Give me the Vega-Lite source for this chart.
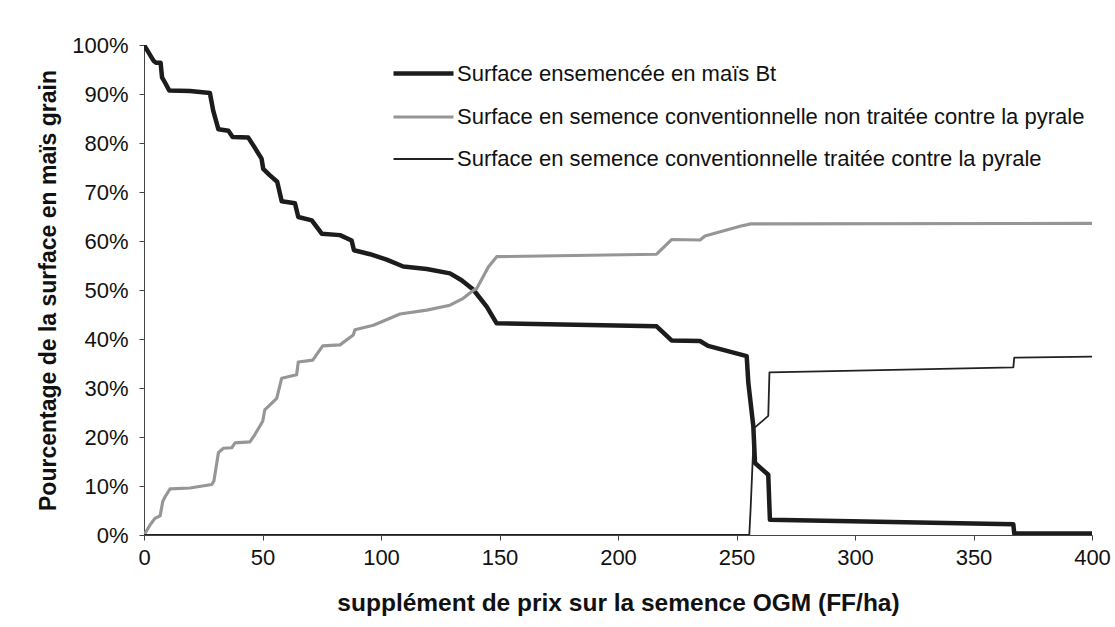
{
  "$schema": "https://vega.github.io/schema/vega-lite/v6.json",
  "autosize": "none",
  "width": 948,
  "height": 490,
  "padding": {"left": 144, "top": 45, "right": 23, "bottom": 92},
  "background": "white",
  "config": {
    "font": "Liberation Sans",
    "view": {"stroke": null},
    "axis": {"grid": false, "domainColor": "#444", "tickColor": "#444", "labelColor": "#111", "titleColor": "#111", "labelFont": "Liberation Sans", "titleFont": "Liberation Sans"}
  },
  "data": {
    "values": [
      {"serie": "Bt", "prix": 0, "pct": 100},
      {"serie": "Bt", "prix": 4, "pct": 96.8},
      {"serie": "Bt", "prix": 5, "pct": 96.4},
      {"serie": "Bt", "prix": 7, "pct": 96.4},
      {"serie": "Bt", "prix": 7.6, "pct": 93.4},
      {"serie": "Bt", "prix": 8.2, "pct": 92.9},
      {"serie": "Bt", "prix": 10.7, "pct": 90.7},
      {"serie": "Bt", "prix": 19.4, "pct": 90.6},
      {"serie": "Bt", "prix": 27.8, "pct": 90.2},
      {"serie": "Bt", "prix": 29.2, "pct": 86.6},
      {"serie": "Bt", "prix": 31.4, "pct": 82.8},
      {"serie": "Bt", "prix": 35.6, "pct": 82.5},
      {"serie": "Bt", "prix": 37.4, "pct": 81.2},
      {"serie": "Bt", "prix": 44, "pct": 81.1},
      {"serie": "Bt", "prix": 46.8, "pct": 79.0},
      {"serie": "Bt", "prix": 49.6, "pct": 76.8},
      {"serie": "Bt", "prix": 50.3, "pct": 74.7},
      {"serie": "Bt", "prix": 52.9, "pct": 73.5},
      {"serie": "Bt", "prix": 56.2, "pct": 72.1},
      {"serie": "Bt", "prix": 58.1, "pct": 68.1},
      {"serie": "Bt", "prix": 63.7, "pct": 67.7},
      {"serie": "Bt", "prix": 65.1, "pct": 64.9},
      {"serie": "Bt", "prix": 70.8, "pct": 64.2},
      {"serie": "Bt", "prix": 75, "pct": 61.5},
      {"serie": "Bt", "prix": 82.7, "pct": 61.2},
      {"serie": "Bt", "prix": 87.6, "pct": 60.1},
      {"serie": "Bt", "prix": 88.6, "pct": 58.1},
      {"serie": "Bt", "prix": 95.4, "pct": 57.3},
      {"serie": "Bt", "prix": 102.4, "pct": 56.2},
      {"serie": "Bt", "prix": 109.4, "pct": 54.8},
      {"serie": "Bt", "prix": 119.3, "pct": 54.3},
      {"serie": "Bt", "prix": 129.1, "pct": 53.4},
      {"serie": "Bt", "prix": 134, "pct": 52.0},
      {"serie": "Bt", "prix": 138.9, "pct": 50.1},
      {"serie": "Bt", "prix": 144.6, "pct": 46.6},
      {"serie": "Bt", "prix": 148.8, "pct": 43.2},
      {"serie": "Bt", "prix": 216.3, "pct": 42.6},
      {"serie": "Bt", "prix": 222.6, "pct": 39.7},
      {"serie": "Bt", "prix": 234.6, "pct": 39.6},
      {"serie": "Bt", "prix": 238, "pct": 38.6},
      {"serie": "Bt", "prix": 254.3, "pct": 36.5},
      {"serie": "Bt", "prix": 255, "pct": 31.0},
      {"serie": "Bt", "prix": 257.1, "pct": 22.2},
      {"serie": "Bt", "prix": 257.8, "pct": 14.7},
      {"serie": "Bt", "prix": 263.4, "pct": 12.3},
      {"serie": "Bt", "prix": 264.1, "pct": 3.1},
      {"serie": "Bt", "prix": 366.8, "pct": 2.2},
      {"serie": "Bt", "prix": 367.2, "pct": 0.3},
      {"serie": "Bt", "prix": 400, "pct": 0.3},
      {"serie": "NT", "prix": 0, "pct": 0},
      {"serie": "NT", "prix": 2.5, "pct": 2.0},
      {"serie": "NT", "prix": 4.6, "pct": 3.4},
      {"serie": "NT", "prix": 6.8, "pct": 3.9},
      {"serie": "NT", "prix": 7.9, "pct": 6.8},
      {"serie": "NT", "prix": 8.9, "pct": 7.8},
      {"serie": "NT", "prix": 11, "pct": 9.4},
      {"serie": "NT", "prix": 19.4, "pct": 9.6},
      {"serie": "NT", "prix": 28.6, "pct": 10.3},
      {"serie": "NT", "prix": 29.5, "pct": 11.0},
      {"serie": "NT", "prix": 31.4, "pct": 16.8},
      {"serie": "NT", "prix": 33.5, "pct": 17.7},
      {"serie": "NT", "prix": 37, "pct": 17.8},
      {"serie": "NT", "prix": 38.4, "pct": 18.8},
      {"serie": "NT", "prix": 44.7, "pct": 19.0},
      {"serie": "NT", "prix": 46.8, "pct": 20.5},
      {"serie": "NT", "prix": 50.1, "pct": 23.2},
      {"serie": "NT", "prix": 51, "pct": 25.6},
      {"serie": "NT", "prix": 52.4, "pct": 26.2},
      {"serie": "NT", "prix": 56, "pct": 27.9},
      {"serie": "NT", "prix": 58.1, "pct": 32.0},
      {"serie": "NT", "prix": 64.4, "pct": 32.7},
      {"serie": "NT", "prix": 65.1, "pct": 35.3},
      {"serie": "NT", "prix": 71.2, "pct": 35.7},
      {"serie": "NT", "prix": 75.4, "pct": 38.6},
      {"serie": "NT", "prix": 82.7, "pct": 38.8},
      {"serie": "NT", "prix": 88.3, "pct": 40.8},
      {"serie": "NT", "prix": 89, "pct": 41.9},
      {"serie": "NT", "prix": 96.8, "pct": 42.8},
      {"serie": "NT", "prix": 108, "pct": 45.1},
      {"serie": "NT", "prix": 119.3, "pct": 45.9},
      {"serie": "NT", "prix": 129.1, "pct": 46.9},
      {"serie": "NT", "prix": 134.7, "pct": 48.3},
      {"serie": "NT", "prix": 138.9, "pct": 49.9},
      {"serie": "NT", "prix": 140.4, "pct": 50.3},
      {"serie": "NT", "prix": 145.3, "pct": 54.7},
      {"serie": "NT", "prix": 148.8, "pct": 56.8},
      {"serie": "NT", "prix": 216.3, "pct": 57.3},
      {"serie": "NT", "prix": 222.6, "pct": 60.3},
      {"serie": "NT", "prix": 234.6, "pct": 60.2},
      {"serie": "NT", "prix": 236.7, "pct": 61.0},
      {"serie": "NT", "prix": 251.5, "pct": 63.0},
      {"serie": "NT", "prix": 256, "pct": 63.5},
      {"serie": "NT", "prix": 400, "pct": 63.6},
      {"serie": "T", "prix": 0, "pct": 0},
      {"serie": "T", "prix": 255.4, "pct": 0},
      {"serie": "T", "prix": 256, "pct": 5.8},
      {"serie": "T", "prix": 257.4, "pct": 21.8},
      {"serie": "T", "prix": 263.4, "pct": 24.3},
      {"serie": "T", "prix": 263.9, "pct": 33.2},
      {"serie": "T", "prix": 285.2, "pct": 33.4},
      {"serie": "T", "prix": 366.8, "pct": 34.2},
      {"serie": "T", "prix": 367.2, "pct": 36.2},
      {"serie": "T", "prix": 400, "pct": 36.4}
    ]
  },
  "transform": [
    {"calculate": "datum.serie === 'Bt' ? 'Surface ensemencée en maïs Bt' : datum.serie === 'NT' ? 'Surface en semence conventionnelle non traitée contre la pyrale' : 'Surface en semence conventionnelle traitée contre la pyrale'", "as": "Série"}
  ],
  "mark": {"type": "line", "clip": true, "strokeJoin": "round"},
  "encoding": {
    "x": {
      "field": "prix", "type": "quantitative",
      "scale": {"domain": [0, 400], "nice": false, "zero": false},
      "axis": {"values": [0, 50, 100, 150, 200, 250, 300, 350, 400], "title": "supplément de prix sur la semence OGM (FF/ha)", "titleFontSize": 24.5, "titleFontWeight": "bold", "titlePadding": 23, "labelFontSize": 22, "labelPadding": 7, "tickSize": 5, "labelFlush": false}
    },
    "y": {
      "field": "pct", "type": "quantitative",
      "scale": {"domain": [0, 100], "nice": false},
      "axis": {"values": [0, 10, 20, 30, 40, 50, 60, 70, 80, 90, 100], "labelExpr": "datum.value + '%'", "title": "Pourcentage de la surface en maïs grain", "titleFontSize": 23, "titleFontWeight": "bold", "titlePadding": 11, "labelFontSize": 22, "labelPadding": 11, "tickSize": 5, "labelFlush": false}
    },
    "color": {
      "field": "Série", "type": "nominal",
      "scale": {"domain": ["Surface ensemencée en maïs Bt", "Surface en semence conventionnelle non traitée contre la pyrale", "Surface en semence conventionnelle traitée contre la pyrale"], "range": ["#1c1c1c", "#969696", "#222222"]},
      "legend": {"title": null, "orient": "none", "legendX": 247, "legendY": -4, "symbolType": "stroke", "symbolSize": 3600, "rowPadding": -17, "labelFontSize": 22, "labelColor": "#111", "labelOffset": 1, "labelLimit": 800}
    },
    "strokeWidth": {
      "field": "Série", "type": "nominal",
      "scale": {"domain": ["Surface ensemencée en maïs Bt", "Surface en semence conventionnelle non traitée contre la pyrale", "Surface en semence conventionnelle traitée contre la pyrale"], "range": [4.5, 1.8, 1.6]},
      "legend": {"title": null, "orient": "none", "legendX": 247, "legendY": -4, "symbolType": "stroke", "symbolSize": 3600, "rowPadding": -17, "labelFontSize": 22, "labelColor": "#111", "labelOffset": 1, "labelLimit": 800}
    }
  }
}
